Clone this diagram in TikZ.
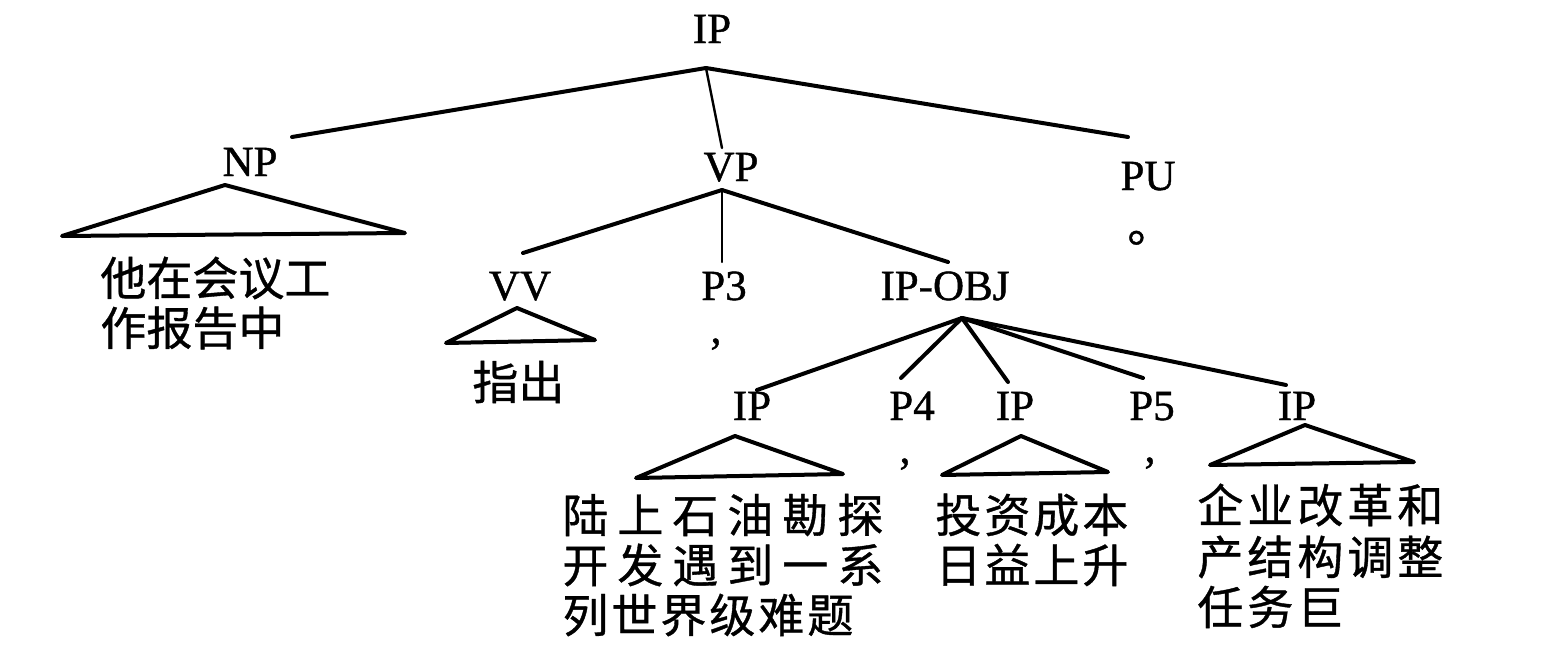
\documentclass[tikz,border=0pt]{standalone}
\usepackage{fontspec}
\setmainfont{Liberation Serif}
\newfontfamily\lat[RawFeature={embolden=1}]{Liberation Serif}
\newfontfamily\cjk[RawFeature={embolden=0.8}]{Noto Sans CJK SC}
\ExplSyntaxOn
\NewDocumentCommand\cjkrow{mm}{\tl_map_inline:nn{#2}{\makebox[#1][l]{##1}}}
\ExplSyntaxOff
\begin{document}
\begin{tikzpicture}[x=0.5pt,y=-0.5pt,
  lab/.style={font=\fontsize{21.5}{21.5}\selectfont\lat, inner sep=0, anchor=base},
  punct/.style={font=\fontsize{22}{22}\selectfont\lat, inner sep=0, anchor=base},
  txt/.style={font=\fontsize{23}{23}\selectfont\cjk, inner sep=0, anchor=west},
  edge/.style={line width=2pt, line cap=round},
  thinedge/.style={line width=1.2pt, line cap=round},
  tri/.style={line width=2pt, line join=round}]
\useasboundingbox (0,0) rectangle (1544,648);

% labels
\node[lab] (ip0) at (712,43) {IP};
\node[lab] (np) at (250,176) {NP};
\node[lab] (vp) at (731,181) {VP};
\node[lab] (pu) at (1148,190) {PU};
\node[lab] (vv) at (520,300) {VV};
\node[lab] (p3) at (724,300) {P3};
\node[lab] (ipobj) at (945,300) {IP-OBJ};
\node[lab] (ip1) at (752,420) {IP};
\node[lab] (p4) at (912,420) {P4};
\node[lab] (ip2) at (1015,420) {IP};
\node[lab] (p5) at (1152,420) {P5};
\node[lab] (ip3) at (1297,420) {IP};

% punctuation leaves
\node[punct] (c3) at (716,343) {,};
\node[punct] (c4) at (905,463) {,};
\node[punct] (c5) at (1150,462) {,};
\node[txt, anchor=base west] (per) at (1127,242) {。};

% junctions and line ends
\coordinate (j0) at (706,68);
\coordinate (npT) at (292,137);
\coordinate (vpT) at (722,148);
\coordinate (puT) at (1128,137);
\coordinate (j1) at (722,190);
\coordinate (vvT) at (523,253);
\coordinate (p3T) at (722,262);
\coordinate (ipobjT) at (948,262);
\coordinate (j2) at (962,318);
\coordinate (ip1T) at (757,390);
\coordinate (p4T) at (901,378);
\coordinate (ip2T) at (1008,382);
\coordinate (p5T) at (1143,378);
\coordinate (ip3T) at (1286,385);

\draw[edge] (j0) -- (npT);
\draw[thinedge] (j0) -- (vpT);
\draw[edge] (j0) -- (puT);
\draw[edge] (j1) -- (vvT);
\draw[thinedge] (j1) -- (p3T);
\draw[edge] (j1) -- (ipobjT);
\draw[edge] (j2) -- (ip1T);
\draw[edge] (j2) -- (p4T);
\draw[edge] (j2) -- (ip2T);
\draw[edge] (j2) -- (p5T);
\draw[edge] (j2) -- (ip3T);

% triangles
\coordinate (tnpA) at (225,185); \coordinate (tnpL) at (62,236); \coordinate (tnpR) at (405,233);
\coordinate (tvvA) at (517,308); \coordinate (tvvL) at (446,343); \coordinate (tvvR) at (595,340);
\coordinate (t1A) at (735,436); \coordinate (t1L) at (636,478); \coordinate (t1R) at (843,474);
\coordinate (t2A) at (1021,436); \coordinate (t2L) at (942,475); \coordinate (t2R) at (1108,472);
\coordinate (t3A) at (1305,425); \coordinate (t3L) at (1210,465); \coordinate (t3R) at (1414,462);
\draw[tri] (tnpA) -- (tnpL) -- (tnpR) -- cycle;
\draw[tri] (tvvA) -- (tvvL) -- (tvvR) -- cycle;
\draw[tri] (t1A) -- (t1L) -- (t1R) -- cycle;
\draw[tri] (t2A) -- (t2L) -- (t2R) -- cycle;
\draw[tri] (t3A) -- (t3L) -- (t3R) -- cycle;

% leaf texts
\node[txt] (np1) at (100,278) {\cjkrow{23pt}{他在会议工}};
\node[txt] (np2) at (100,328) {\cjkrow{23pt}{作报告中}};
\node[txt] (vv1) at (472,382) {\cjkrow{23pt}{指出}};
\node[txt] (a1) at (562,515) {\cjkrow{27.5pt}{陆上石油勘探}};
\node[txt] (a2) at (562,565) {\cjkrow{27.5pt}{开发遇到一系}};
\node[txt] (a3) at (562,615) {\cjkrow{24.5pt}{列世界级难题}};
\node[txt] (b1) at (935,515) {\cjkrow{24.5pt}{投资成本}};
\node[txt] (b2) at (935,565) {\cjkrow{24.5pt}{日益上升}};
\node[txt] (d1) at (1197,505) {\cjkrow{25pt}{企业改革和}};
\node[txt] (d2) at (1197,557) {\cjkrow{25pt}{产结构调整}};
\node[txt] (d3) at (1197,607) {\cjkrow{25pt}{任务巨}};
\end{tikzpicture}
\end{document}
